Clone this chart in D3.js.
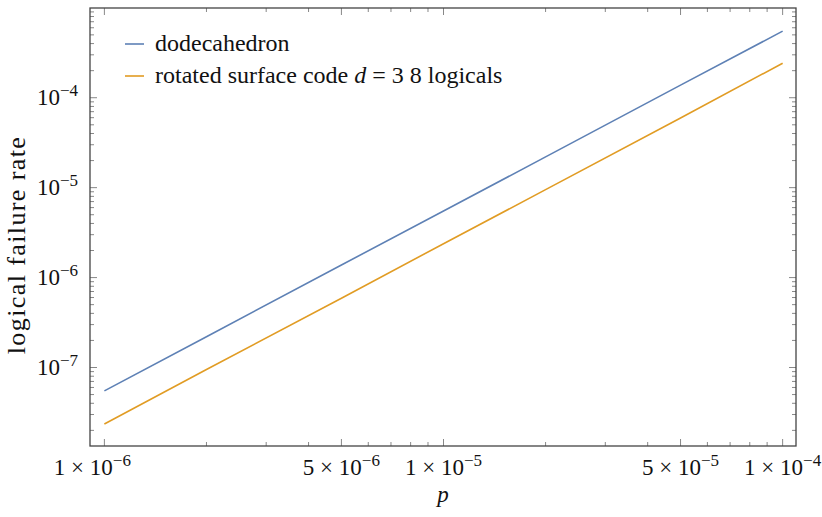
<!DOCTYPE html>
<html>
<head>
<meta charset="utf-8">
<script src="https://cdn.jsdelivr.net/npm/d3@7"></script>
<style>
  body { margin: 0; background: #fff; }
  svg text { font-family: "Liberation Serif", "Times New Roman", "DejaVu Serif", serif; fill: #111; }
</style>
</head>
<body>
<svg id="chart" width="822" height="517" font-family="Liberation Serif, serif"></svg>
<script>
// ---- data ----
const pValues = [1e-6, 2e-6, 5e-6, 1e-5, 2e-5, 5e-5, 1e-4];
const dodecahedron = [5.5e-8, 2.2e-7, 1.38e-6, 5.5e-6, 2.2e-5, 1.38e-4, 5.5e-4];
const rotatedSurface = [2.35e-8, 9.5e-8, 5.9e-7, 2.38e-6, 9.5e-6, 5.95e-5, 2.42e-4];
const seriesNames = ["dodecahedron", "rotated surface code d = 3 8 logicals"];
const xTickValues = [1e-6, 5e-6, 1e-5, 5e-5, 1e-4];
const xTickMantissa = ["1", "5", "1", "5", "1"];
const xTickExponent = ["−6", "−6", "−5", "−5", "−4"];
const yTickValues = [1e-7, 1e-6, 1e-5, 1e-4];
const yTickExponent = ["−7", "−6", "−5", "−4"];
const xDomain = [9.07e-7, 1.095e-4];
const yDomain = [1.34e-8, 9.95e-4];

const W = 822, H = 517;
const margin = {left: 90, right: 26, top: 8, bottom: 71};
const svg = d3.select("#chart");
const x = d3.scaleLog().domain(xDomain).range([margin.left, W - margin.right]);
const y = d3.scaleLog().domain(yDomain).range([H - margin.bottom, margin.top]);

const colors = ["#5E81B5", "#E19C24"];
const FS = 23;      // tick labels
const FSL = 24;     // legend

function minorTicks(dom) {
  const out = [];
  const lo = Math.floor(Math.log10(dom[0])), hi = Math.ceil(Math.log10(dom[1]));
  for (let e = lo; e <= hi; e++) {
    for (let m = 1; m <= 9; m++) {
      const v = m * Math.pow(10, e);
      if (v >= dom[0] && v <= dom[1]) out.push(v);
    }
  }
  return out;
}
const xMinor = minorTicks(xDomain);
const yMinor = minorTicks(yDomain);
const isDecade = v => Math.abs(Math.log10(v) - Math.round(Math.log10(v))) < 1e-9;
const xMajorSet = v => xTickValues.some(t => Math.abs(t - v) / t < 1e-9);

const x0 = margin.left, x1 = W - margin.right, y0 = H - margin.bottom, y1 = margin.top;
const tickG = svg.append("g").attr("stroke", "#888").attr("stroke-width", 1);

xMinor.forEach(v => {
  const len = xMajorSet(v) ? 7 : 4;
  const px = x(v);
  tickG.append("line").attr("x1", px).attr("x2", px).attr("y1", y0).attr("y2", y0 - len);
  tickG.append("line").attr("x1", px).attr("x2", px).attr("y1", y1).attr("y2", y1 + len);
});
yMinor.forEach(v => {
  const len = isDecade(v) ? 7 : 4;
  const py = y(v);
  tickG.append("line").attr("y1", py).attr("y2", py).attr("x1", x0).attr("x2", x0 + len);
  tickG.append("line").attr("y1", py).attr("y2", py).attr("x1", x1).attr("x2", x1 - len);
});

svg.append("rect").attr("x", x0).attr("y", y1).attr("width", x1 - x0).attr("height", y0 - y1)
  .attr("fill", "none").attr("stroke", "#444").attr("stroke-width", 1.3);

const line = d3.line().x(d => x(d[0])).y(d => y(d[1]));
[dodecahedron, rotatedSurface].forEach((s, i) => {
  svg.append("path").datum(pValues.map((p, j) => [p, s[j]]))
    .attr("d", line).attr("fill", "none").attr("stroke", colors[i]).attr("stroke-width", 1.6);
});

xTickValues.forEach((v, i) => {
  const t = svg.append("text").attr("y", y0 + 29).attr("font-size", FS)
    .attr("text-anchor", "middle").attr("x", x(v) + (i === 0 ? -12 : 0));
  t.append("tspan").text(xTickMantissa[i] + " × 10");
  t.append("tspan").attr("dy", -9).attr("font-size", FS * 0.74).text(xTickExponent[i]);
});
yTickValues.forEach((v, i) => {
  const t = svg.append("text").attr("x", x0 - 12).attr("y", y(v) + 7.5).attr("font-size", FS)
    .attr("text-anchor", "end");
  t.append("tspan").text("10");
  t.append("tspan").attr("dy", -9).attr("font-size", FS * 0.74).text(yTickExponent[i]);
});

svg.append("text").attr("x", 443).attr("y", 502).attr("font-size", FS)
  .attr("font-style", "italic").attr("text-anchor", "middle").text("p");
svg.append("text").attr("transform", "translate(25,245) rotate(-90)")
  .attr("font-size", 26).attr("letter-spacing", 1.4).attr("text-anchor", "middle").text("logical failure rate");

const legY = [44, 76];
seriesNames.forEach((name, i) => {
  svg.append("line").attr("x1", 125).attr("x2", 144).attr("y1", legY[i]).attr("y2", legY[i])
    .attr("stroke", colors[i]).attr("stroke-width", 1.6);
  const t = svg.append("text").attr("x", 155).attr("y", legY[i] + 7).attr("font-size", FSL);
  if (name.includes(" d = ")) {
    const parts = name.split(" d ");
    t.append("tspan").text(parts[0] + " ");
    t.append("tspan").attr("font-style", "italic").text("d");
    t.append("tspan").text(" " + parts[1]);
  } else {
    t.text(name);
  }
});
</script>
</body>
</html>
